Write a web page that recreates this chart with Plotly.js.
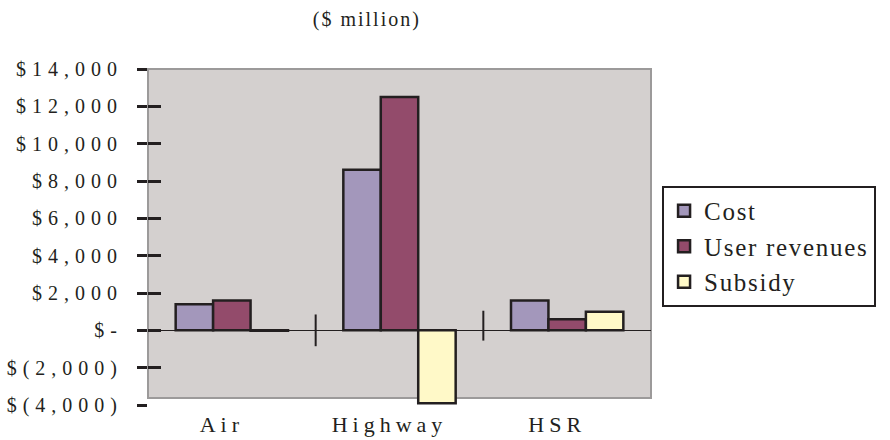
<!DOCTYPE html>
<html>
<head>
<meta charset="utf-8">
<script src="https://cdn.plot.ly/plotly-3.0.1.min.js"></script>
<style>
  html, body { margin: 0; padding: 0; background: #fff; }
  .xtick text { letter-spacing: 5px; }
  .ytick text { letter-spacing: 6px; }
  .legendtext { letter-spacing: 1.7px; }
  .gtitle { letter-spacing: 2px; }
</style>
</head>
<body>
<div id="chart" style="width:890px;height:440px;"></div>
<script>
const categories = ["Air", "Highway", "HSR"];
const costValues = [1400, 8600, 1600];
const userRevenueValues = [1600, 12500, 600];
const subsidyValues = [-20, -3900, 1000];
const seriesNames = ["Cost", "User revenues", "Subsidy"];
const yTickValues = [-4000, -2000, 0, 2000, 4000, 6000, 8000, 10000, 12000, 14000];
const yTickLabels = ["$(4,000)", "$(2,000)", "$-", "$2,000", "$4,000", "$6,000", "$8,000", "$10,000", "$12,000", "$14,000"];
const chartTitle = "($ million)";

const serifFont = "Liberation Serif";
const ink = "#231f20";
const colors = ["#a397bb", "#934b6b", "#fff9c8"];
const values = [costValues, userRevenueValues, subsidyValues];

const traces = values.map((v, i) => ({
  type: "bar",
  name: seriesNames[i],
  x: categories,
  y: v,
  marker: { color: colors[i], line: { color: ink, width: 2.5 } },
  hoverinfo: "skip"
}));
traces.push({ type: "scatter", x: [], y: [], yaxis: "y2", showlegend: false, hoverinfo: "skip" });

const layout = {
  width: 890,
  height: 440,
  margin: { l: 148, r: 239, t: 69, b: 35 },
  paper_bgcolor: "#ffffff",
  plot_bgcolor: "rgba(0,0,0,0)",
  barmode: "group",
  bargap: 0.33,
  bargroupgap: 0,
  showlegend: true,
  title: {
    text: chartTitle,
    font: { family: serifFont, size: 20, color: ink },
    x: 0.435, xref: "paper", xanchor: "center",
    y: 0.957, yref: "container", yanchor: "middle"
  },
  font: { family: serifFont, color: ink },
  xaxis: {
    type: "category",
    range: [-0.5, 2.5],
    showgrid: false,
    showline: false,
    zeroline: false,
    ticks: "",
    ticklabelstandoff: 4,
    ticklabelshift: -10,
    tickfont: { family: serifFont, size: 22, color: ink }
  },
  yaxis: {
    range: [-4000, 14000],
    tickmode: "array",
    tickvals: yTickValues,
    ticktext: yTickLabels,
    ticks: "outside",
    ticklen: 10,
    tickwidth: 3,
    tickcolor: ink,
    ticklabelstandoff: 10,
    showgrid: false,
    showline: false,
    zeroline: true,
    zerolinecolor: ink,
    zerolinewidth: 1,
    tickfont: { family: serifFont, size: 20, color: ink }
  },
  yaxis2: {
    overlaying: "y",
    side: "left",
    range: [-4000, 14000],
    tickmode: "array",
    tickvals: yTickValues,
    ticks: "inside",
    ticklen: 13,
    tickwidth: 3,
    tickcolor: ink,
    showticklabels: false,
    showgrid: false,
    showline: false,
    zeroline: false
  },
  legend: {
    x: 1.022, xref: "paper", xanchor: "left",
    y: 0.652, yref: "paper", yanchor: "top",
    bgcolor: "#ffffff",
    bordercolor: ink,
    borderwidth: 2,
    font: { family: serifFont, size: 25, color: ink },
    tracegroupgap: 0
  },
  shapes: [
    {
      type: "rect", xref: "paper", yref: "paper",
      x0: 0, x1: 1, y0: 0.021, y1: 1,
      fillcolor: "#d4d0cf",
      line: { color: "#9c9a9a", width: 2 },
      layer: "below"
    },
    {
      type: "line", xref: "x", yref: "y",
      x0: 0.5, x1: 0.5, y0: -850, y1: 850,
      line: { color: ink, width: 2 }
    },
    {
      type: "line", xref: "x", yref: "y",
      x0: 1.5, x1: 1.5, y0: -550, y1: 1050,
      line: { color: ink, width: 2 }
    }
  ]
};

Plotly.newPlot("chart", traces, layout, { displayModeBar: false, staticPlot: true });
</script>
</body>
</html>
